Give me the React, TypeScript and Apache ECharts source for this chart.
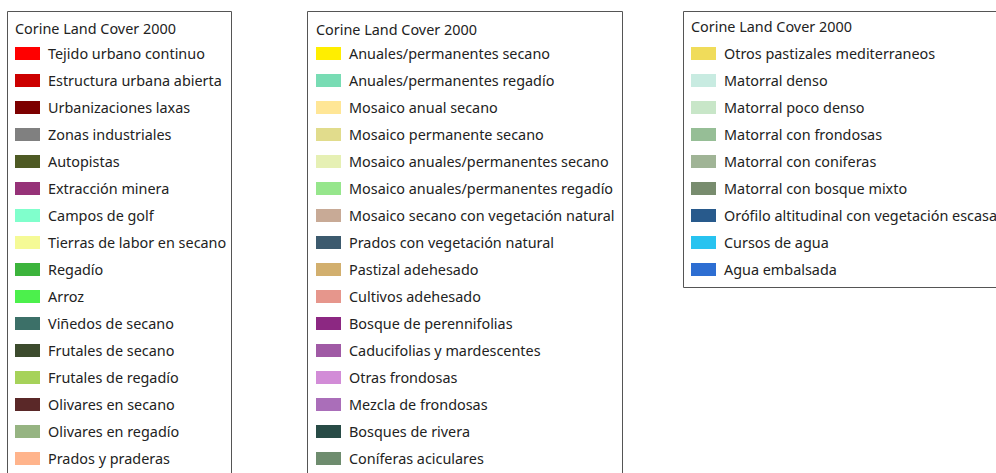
import React, { useEffect, useRef } from "react";
import * as echarts from "echarts";

const legendTitle = "Corine Land Cover 2000";

const namesA = [
  "Tejido urbano continuo",
  "Estructura urbana abierta",
  "Urbanizaciones laxas",
  "Zonas industriales",
  "Autopistas",
  "Extracción minera",
  "Campos de golf",
  "Tierras de labor en secano",
  "Regadío",
  "Arroz",
  "Viñedos de secano",
  "Frutales de secano",
  "Frutales de regadío",
  "Olivares en secano",
  "Olivares en regadío",
  "Prados y praderas",
];
const colorsA = [
  "#ff0000", "#cc0000", "#7d0000", "#808080", "#4e5a24", "#963278", "#80ffcc", "#f5fa96",
  "#3cb43c", "#4cf04c", "#3c7068", "#3c4b2d", "#a6d25a", "#5a2828", "#96b482", "#ffb48c",
];

const namesB = [
  "Anuales/permanentes secano",
  "Anuales/permanentes regadío",
  "Mosaico anual secano",
  "Mosaico permanente secano",
  "Mosaico anuales/permanentes secano",
  "Mosaico anuales/permanentes regadío",
  "Mosaico secano con vegetación natural",
  "Prados con vegetación natural",
  "Pastizal adehesado",
  "Cultivos adehesado",
  "Bosque de perennifolias",
  "Caducifolias y mardescentes",
  "Otras frondosas",
  "Mezcla de frondosas",
  "Bosques de rivera",
  "Coníferas aciculares",
];
const colorsB = [
  "#ffee00", "#78dcb4", "#ffe696", "#e1dc8c", "#e6f0b4", "#96e68c", "#c8aa96", "#3c5a6e",
  "#d2af6e", "#e6968c", "#8c2882", "#a05aa5", "#d28cd7", "#aa6eb9", "#284b46", "#6e8c6e",
];

const namesC = [
  "Otros pastizales mediterraneos",
  "Matorral denso",
  "Matorral poco denso",
  "Matorral con frondosas",
  "Matorral con coniferas",
  "Matorral con bosque mixto",
  "Orófilo altitudinal con vegetación escasa",
  "Cursos de agua",
  "Agua embalsada",
];
const colorsC = [
  "#f0dc5a", "#c8ebe1", "#c8e6c8", "#96be96", "#a0b496", "#788c6e", "#285a8c", "#28c3f0", "#2d6ed2",
];

const FONT = "Noto Sans";
const FS = 14.4;

export default function App() {
  const ref = useRef<HTMLDivElement>(null);
  useEffect(() => {
    if (!ref.current) return;
    const chart = echarts.init(ref.current, undefined, { renderer: "svg" });
    const allNames = [...namesA, ...namesB, ...namesC];
    const allColors = [...colorsA, ...colorsB, ...colorsC];
    const pieData = allNames.map((n, i) => ({ name: n, value: 1, itemStyle: { color: allColors[i] } }));
    const textStyle = {
      fontFamily: FONT,
      fontSize: FS,
      color: "#222",
      lineHeight: 14,
      padding: [0, 0, 0, 3],
    };
    const mkLegend = (names: string[], left: number) => ({
      orient: "vertical",
      left,
      top: 46.5,
      padding: 0,
      itemWidth: 25,
      itemHeight: 13,
      itemGap: 13,
      icon: "rect",
      selectedMode: false,
      itemStyle: { borderWidth: 0 },
      textStyle,
      data: names,
    });
    const mkTitle = (left: number, top: number) => ({
      text: legendTitle,
      left,
      top,
      padding: 0,
      textStyle: { fontFamily: FONT, fontSize: FS, fontWeight: "normal", color: "#222" },
    });
    const border = { stroke: "#555", lineWidth: 1, fill: "#fff" };
    chart.setOption({
      animation: false,
      backgroundColor: "#fff",
      graphic: [
        { type: "rect", z: -10, shape: { x: 7.5, y: 11.5, width: 224, height: 520 }, style: border },
        { type: "rect", z: -10, shape: { x: 307.5, y: 11.5, width: 315, height: 520 }, style: border },
        { type: "rect", z: -10, shape: { x: 683.5, y: 11.5, width: 400, height: 276 }, style: border },
      ],
      title: [mkTitle(15, 21), mkTitle(316, 22), mkTitle(691, 19)],
      legend: [mkLegend(namesA, 15), mkLegend(namesB, 316), mkLegend(namesC, 691)],
      series: [
        {
          type: "pie",
          center: [-500, -500],
          radius: 5,
          silent: true,
          label: { show: false },
          labelLine: { show: false },
          data: pieData,
        },
      ],
    });
    return () => chart.dispose();
  }, []);
  return (
    <div
      ref={ref}
      style={{ position: "fixed", left: 0, top: 0, width: 996, height: 473 }}
    />
  );
}
